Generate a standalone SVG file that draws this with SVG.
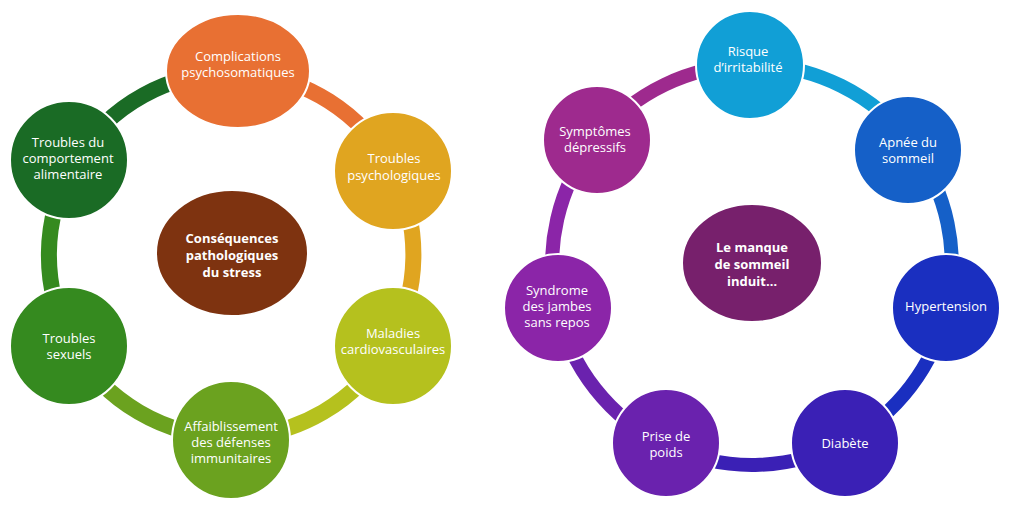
<svg xmlns="http://www.w3.org/2000/svg" width="1013" height="506" viewBox="0 0 1013 506">
<style>
.n{stroke:#fff;stroke-width:2}
.a{fill:none;stroke-width:16}
.b{fill:none;stroke-width:14}
text{font-family:"Open Sans","Liberation Sans",sans-serif;font-size:13px;fill:#fff;text-anchor:middle}
.c{font-weight:bold;font-size:13px}
</style>
<rect width="1013" height="506" fill="#fff"/>
<g id="connectors">
<path class="a" stroke="#E87033" d="M238,73 A182,182 0 0 1 393,171"/>
<path class="a" stroke="#E0A520" d="M393,171 A182,182 0 0 1 390,344"/>
<path class="a" stroke="#B5C11E" d="M390,344 A182,182 0 0 1 231,437"/>
<path class="a" stroke="#6BA21F" d="M231,437 A182,182 0 0 1 72,344"/>
<path class="a" stroke="#358A1F" d="M72,344 A182,182 0 0 1 74,163"/>
<path class="a" stroke="#1A6B25" d="M74,163 A182,182 0 0 1 238,73"/>
<path class="b" stroke="#119FD6" d="M750,65 A200,200 0 0 1 913,146"/>
<path class="b" stroke="#1560C8" d="M913,146 A200,200 0 0 1 947,308"/>
<path class="b" stroke="#1A2FC0" d="M947,308 A200,200 0 0 1 845,442"/>
<path class="b" stroke="#3A20B5" d="M845,442 A200,200 0 0 1 665,445"/>
<path class="b" stroke="#6A22AE" d="M665,445 A200,200 0 0 1 557,308"/>
<path class="b" stroke="#8B25A8" d="M557,308 A200,200 0 0 1 596,139"/>
<path class="b" stroke="#9E2A8E" d="M596,139 A200,200 0 0 1 750,65"/>
</g>
<g id="stress-center"><ellipse cx="232" cy="253" rx="76" ry="63" fill="#7E3310" class="n"/><text class="c" x="232" y="243">Conséquences</text><text class="c" x="232" y="260">pathologiques</text><text class="c" x="232" y="277">du stress</text></g>
<g id="complications"><ellipse cx="238" cy="71" rx="72" ry="57" fill="#E87033" class="n"/><text x="238" y="61">Complications</text><text x="238" y="77">psychosomatiques</text></g>
<g id="psychologiques"><circle cx="393" cy="171" r="59" fill="#E0A520" class="n"/><text x="394" y="163">Troubles</text><text x="394" y="180">psychologiques</text></g>
<g id="cardio"><circle cx="393" cy="346" r="59" fill="#B5C11E" class="n"/><text x="393" y="338">Maladies</text><text x="393" y="354">cardiovasculaires</text></g>
<g id="affaiblissement"><circle cx="231" cy="440" r="59" fill="#6BA21F" class="n"/><text x="231" y="431">Affaiblissement</text><text x="231" y="447">des défenses</text><text x="231" y="463">immunitaires</text></g>
<g id="sexuels"><circle cx="69" cy="346" r="59" fill="#358A1F" class="n"/><text x="69" y="343">Troubles</text><text x="69" y="359">sexuels</text></g>
<g id="alimentaire"><circle cx="69" cy="160" r="59" fill="#1A6B25" class="n"/><text x="68" y="147">Troubles du</text><text x="68" y="163">comportement</text><text x="68" y="179">alimentaire</text></g>
<g id="sommeil-center"><ellipse cx="752" cy="263" rx="70" ry="59" fill="#77206C" class="n"/><text class="c" x="752" y="252">Le manque</text><text class="c" x="752" y="269">de sommeil</text><text class="c" x="752" y="286">induit…</text></g>
<g id="irritabilite"><circle cx="750" cy="65" r="54" fill="#119FD6" class="n"/><text x="748" y="56">Risque</text><text x="748" y="72">d’irritabilité</text></g>
<g id="apnee"><circle cx="908" cy="150" r="54" fill="#1560C8" class="n"/><text x="908" y="147">Apnée du</text><text x="908" y="163">sommeil</text></g>
<g id="hypertension"><circle cx="946" cy="308" r="54" fill="#1A2FC0" class="n"/><text x="946" y="311">Hypertension</text></g>
<g id="diabete"><circle cx="845" cy="443" r="54" fill="#3A20B5" class="n"/><text x="845" y="448">Diabète</text></g>
<g id="poids"><circle cx="666" cy="443" r="54" fill="#6A22AE" class="n"/><text x="666" y="441">Prise de</text><text x="666" y="457">poids</text></g>
<g id="jambes"><circle cx="558" cy="308" r="54" fill="#8B25A8" class="n"/><text x="557" y="295">Syndrome</text><text x="557" y="311">des jambes</text><text x="557" y="327">sans repos</text></g>
<g id="depressifs"><circle cx="597" cy="140" r="54" fill="#9E2A8E" class="n"/><text x="595" y="136">Symptômes</text><text x="595" y="152">dépressifs</text></g>
</svg>
